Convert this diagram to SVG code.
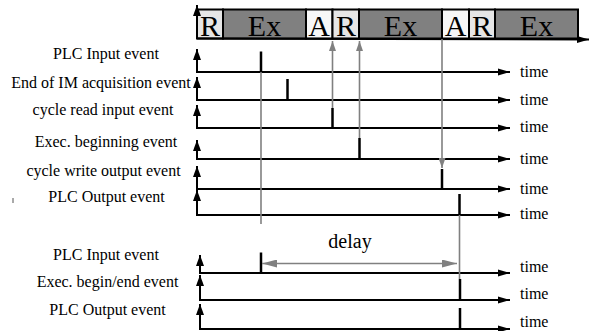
<svg xmlns="http://www.w3.org/2000/svg" width="590" height="331" viewBox="0 0 590 331">
<style>
.ax{stroke:#000;stroke-width:2;fill:none}
.tk{stroke:#000;stroke-width:2.5}
.gl{stroke:#808080;stroke-width:1.6;fill:none}
.lb{font-family:"Liberation Serif","Times New Roman",serif;font-size:16px;fill:#000;text-anchor:middle}
.tm{font-family:"Liberation Serif","Times New Roman",serif;font-size:16px;fill:#000}
.bt{font-family:"Liberation Serif","Times New Roman",serif;font-size:30px;fill:#000;text-anchor:middle}
.R{fill:#e6e6e6;stroke:#000;stroke-width:2}
.E{fill:#808080;stroke:#000;stroke-width:2}
.A{fill:#f7f7f7;stroke:#000;stroke-width:2}
</style>
<defs>
<marker id="ah" markerUnits="userSpaceOnUse" markerWidth="12" markerHeight="8" refX="12" refY="4" orient="auto"><path d="M0,0.5 L12,4 L0,7.5 z" fill="#000"/></marker>
<marker id="av" markerUnits="userSpaceOnUse" markerWidth="12" markerHeight="8" refX="11" refY="4" orient="auto"><path d="M0,0 L11,4 L0,8 z" fill="#000"/></marker>
<marker id="ag" markerUnits="userSpaceOnUse" markerWidth="10" markerHeight="7" refX="10" refY="3.5" orient="auto"><path d="M0,0 L10,3.5 L0,7 z" fill="#808080"/></marker>
<marker id="ad" markerUnits="userSpaceOnUse" markerWidth="15" markerHeight="8" refX="15" refY="4" orient="auto"><path d="M0,0 L15,4 L0,8 z" fill="#808080"/></marker>
</defs>

<g id="cycle-bar">
<rect class="R" x="197" y="9.5" width="26" height="29"/>
<rect class="E" x="223" y="9.5" width="83" height="29"/>
<rect class="A" x="306" y="9.5" width="26.5" height="29"/>
<rect class="R" x="332.5" y="9.5" width="26.5" height="29"/>
<rect class="E" x="359" y="9.5" width="83" height="29"/>
<rect class="A" x="442" y="9.5" width="27" height="29"/>
<rect class="R" x="469" y="9.5" width="26" height="29"/>
<rect class="E" x="495" y="9.5" width="83" height="29"/>
<text class="bt" x="210" y="35.5">R</text>
<text class="bt" x="264.5" y="35.5">Ex</text>
<text class="bt" x="319" y="35.5">A</text>
<text class="bt" x="346" y="35.5">R</text>
<text class="bt" x="400.5" y="35.5">Ex</text>
<text class="bt" x="455.5" y="35.5">A</text>
<text class="bt" x="482" y="35.5">R</text>
<text class="bt" x="536.5" y="35.5">Ex</text>
<line class="ax" x1="197" y1="38.5" x2="589" y2="39.5" marker-end="url(#ah)"/>
<line class="ax" x1="197" y1="38.5" x2="197" y2="5" marker-end="url(#av)"/>
</g>

<g id="row-plc-input">
<text class="lb" x="106" y="59">PLC Input event</text>
<line class="ax" x1="197" y1="72" x2="197" y2="49" marker-end="url(#av)"/>
<line class="ax" x1="196" y1="72" x2="510" y2="72" marker-end="url(#ah)"/>
<text class="tm" x="520" y="77">time</text>
<line class="tk" x1="261" y1="51.5" x2="261" y2="72"/>
</g>
<g id="row-end-im">
<text class="lb" x="101" y="88">End of IM acquisition event</text>
<line class="ax" x1="197" y1="100" x2="197" y2="77" marker-end="url(#av)"/>
<line class="ax" x1="196" y1="100" x2="510" y2="100" marker-end="url(#ah)"/>
<text class="tm" x="520" y="105">time</text>
<line class="tk" x1="287.5" y1="79" x2="287.5" y2="100"/>
</g>
<g id="row-cycle-read">
<text class="lb" x="103" y="115">cycle read input event</text>
<line class="ax" x1="197" y1="128" x2="197" y2="105" marker-end="url(#av)"/>
<line class="ax" x1="196" y1="128" x2="510" y2="128" marker-end="url(#ah)"/>
<text class="tm" x="520" y="132">time</text>
<line class="tk" x1="332.5" y1="108" x2="332.5" y2="128"/>
</g>
<g id="row-exec-begin">
<text class="lb" x="106" y="146.5">Exec. beginning event</text>
<line class="ax" x1="197" y1="159" x2="197" y2="140" marker-end="url(#av)"/>
<line class="ax" x1="196" y1="159" x2="510" y2="159" marker-end="url(#ah)"/>
<text class="tm" x="520" y="164">time</text>
<line class="tk" x1="359.5" y1="138" x2="359.5" y2="159"/>
</g>
<g id="row-cycle-write">
<text class="lb" x="103.5" y="176">cycle write output event</text>
<line class="ax" x1="197" y1="189" x2="197" y2="166" marker-end="url(#av)"/>
<line class="ax" x1="196" y1="189" x2="510" y2="189" marker-end="url(#ah)"/>
<text class="tm" x="520" y="194">time</text>
<line class="tk" x1="442" y1="169" x2="442" y2="190"/>
</g>
<g id="row-plc-output">
<text class="lb" x="106.5" y="201.5">PLC Output event</text>
<line class="ax" x1="197" y1="215" x2="197" y2="190" marker-end="url(#av)"/>
<line class="ax" x1="196" y1="215" x2="510" y2="215" marker-end="url(#ah)"/>
<text class="tm" x="520" y="219">time</text>
<line class="tk" x1="459.5" y1="194" x2="459.5" y2="215"/>
</g>
<line x1="13" y1="198" x2="13" y2="203" stroke="#555" stroke-width="1"/>

<g id="low-plc-input">
<text class="lb" x="106" y="260">PLC Input event</text>
<line class="ax" x1="200" y1="273" x2="200" y2="255" marker-end="url(#av)"/>
<line class="ax" x1="199" y1="273" x2="510" y2="273" marker-end="url(#ah)"/>
<text class="tm" x="520" y="272">time</text>
<line class="tk" x1="261" y1="252.5" x2="261" y2="273"/>
</g>
<g id="low-exec">
<text class="lb" x="107.5" y="287">Exec. begin/end event</text>
<line class="ax" x1="200" y1="300" x2="200" y2="275" marker-end="url(#av)"/>
<line class="ax" x1="199" y1="300" x2="510" y2="300" marker-end="url(#ah)"/>
<text class="tm" x="520" y="299">time</text>
<line class="tk" x1="460" y1="279" x2="460" y2="300"/>
</g>
<g id="low-plc-output">
<text class="lb" x="107.5" y="315">PLC Output event</text>
<line class="ax" x1="200" y1="329" x2="200" y2="304" marker-end="url(#av)"/>
<line class="ax" x1="199" y1="329" x2="510" y2="329" marker-end="url(#ah)"/>
<text class="tm" x="520" y="327">time</text>
<line class="tk" x1="460" y1="308" x2="460" y2="330"/>
</g>

<g id="connectors">
<line class="gl" x1="261" y1="72" x2="261" y2="224"/>
<line class="gl" x1="332.5" y1="108" x2="332.5" y2="41" marker-end="url(#ag)"/>
<line class="gl" x1="359.5" y1="138" x2="359.5" y2="41" marker-end="url(#ag)"/>
<line class="gl" x1="442" y1="39" x2="442" y2="168" marker-end="url(#ag)"/>
<line class="gl" x1="459.5" y1="215" x2="459.5" y2="279"/>
<line class="gl" x1="300" y1="263.5" x2="262" y2="263.5" marker-end="url(#ad)"/>
<line class="gl" x1="300" y1="263.5" x2="457" y2="263.5" marker-end="url(#ad)"/>
<text x="350" y="248" font-family="'Liberation Serif','Times New Roman',serif" font-size="20" text-anchor="middle" fill="#000">delay</text>
</g>
</svg>
